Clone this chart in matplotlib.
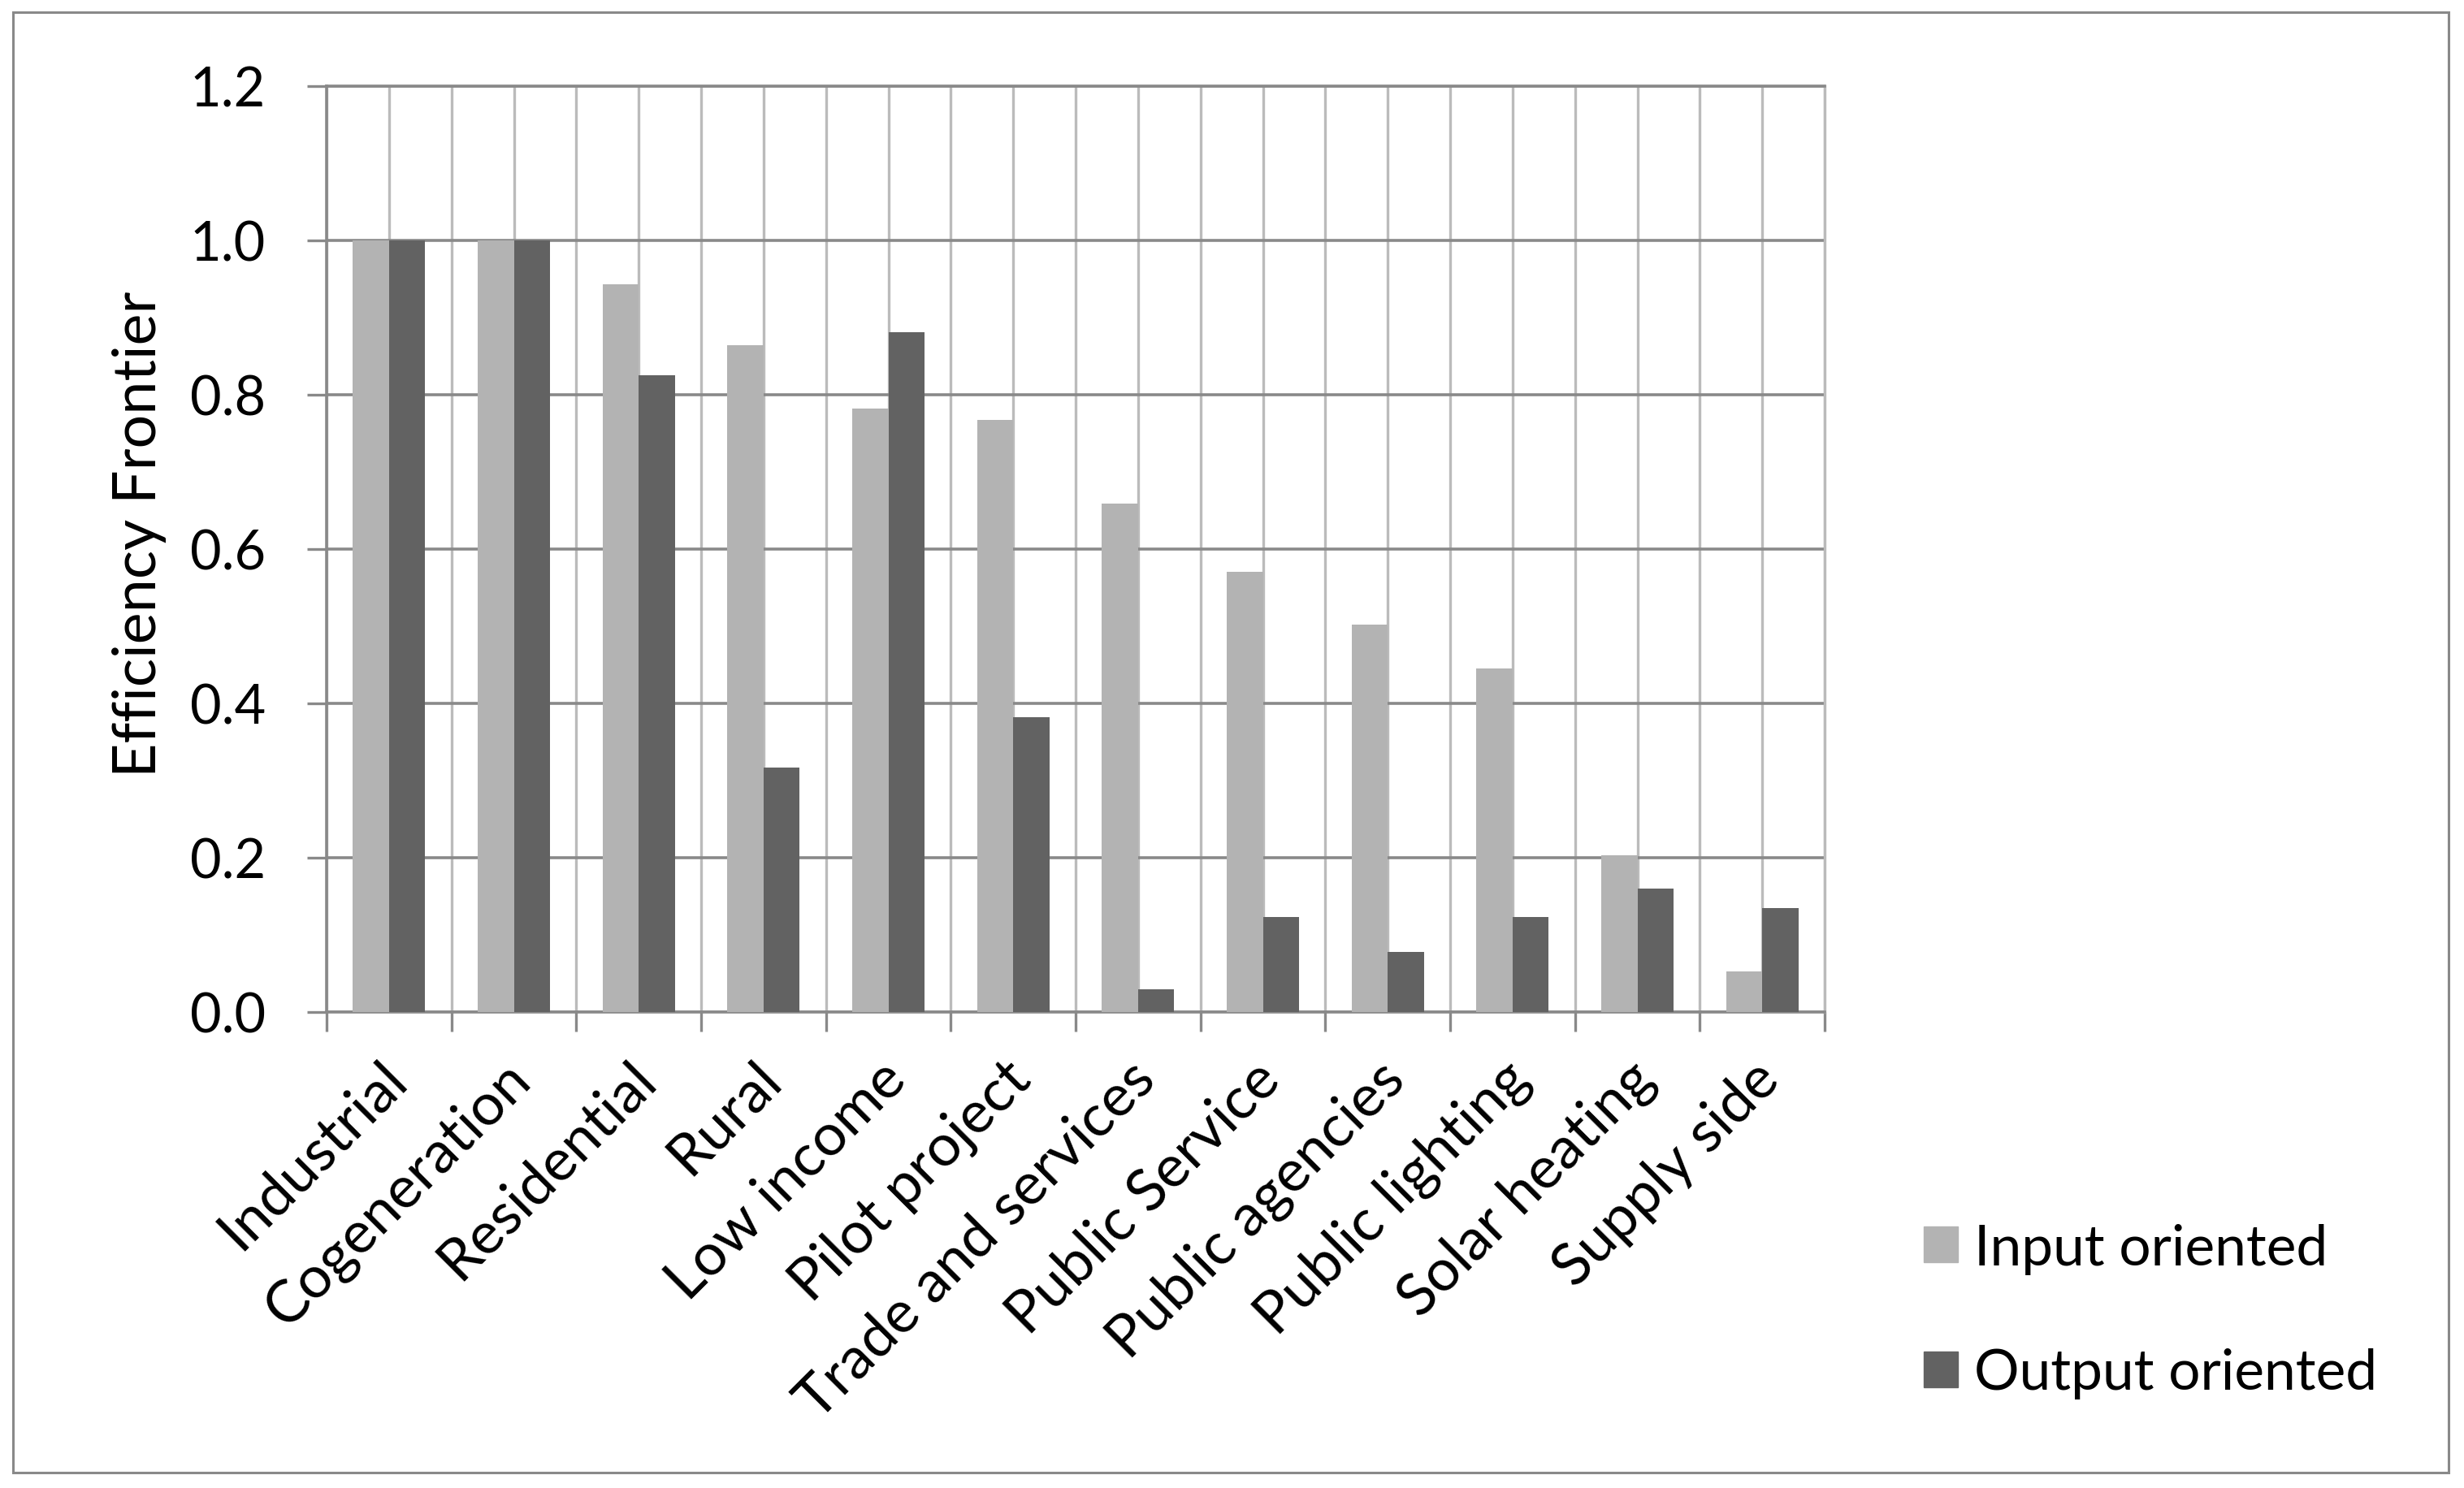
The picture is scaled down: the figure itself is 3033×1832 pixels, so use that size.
import matplotlib
matplotlib.use("Agg")
import matplotlib.pyplot as plt
import matplotlib.transforms as mtransforms
from matplotlib.patches import Rectangle, Patch
import numpy as np

plt.rcParams["font.family"] = ["Lato", "DejaVu Sans"]

categories = ["Industrial", "Cogeneration", "Residential", "Rural", "Low income",
              "Pilot project", "Trade and services", "Public Service", "Public agencies",
              "Public lighting", "Solar heating", "Supply side"]
input_oriented = [1.0, 1.0, 0.943, 0.864, 0.782, 0.767, 0.659, 0.571, 0.502, 0.445, 0.203, 0.053]
output_oriented = [1.0, 1.0, 0.825, 0.317, 0.881, 0.382, 0.030, 0.123, 0.078, 0.123, 0.160, 0.135]
series_names = ["Input oriented", "Output oriented"]

LIGHT = "#b3b3b3"
DARK = "#626262"
HGRID = "#898989"
VGRID = "#bbbbbb"
FS = 48

W, H = 3033, 1833
fig = plt.figure(figsize=(W / 100, H / 100), dpi=100)
ax = fig.add_axes([402 / W, 1 - 1247 / H, (2246 - 402) / W, (1247 - 107) / H])

n = len(categories)
centers = np.arange(n) + 0.5
bw = 0.29
ax.bar(centers - bw / 2, input_oriented, bw, color=LIGHT, zorder=3)
ax.bar(centers + bw / 2, output_oriented, bw, color=DARK, zorder=3)

ax.set_xlim(0, n)
ax.set_ylim(0, 1.2)
ax.set_yticks(np.arange(0, 1.21, 0.2))
ax.set_yticklabels([f"{v:.1f}" for v in np.arange(0, 1.21, 0.2)], fontsize=FS)

# category boundaries get tick marks, centres carry the labels
ax.set_xticks(np.arange(n + 1), minor=True)
ax.set_xticks(centers)
ax.set_xticklabels([])
ax.tick_params(axis="x", which="major", length=0)
ax.tick_params(axis="x", which="minor", length=17, width=2.4, color=HGRID, direction="out")
ax.tick_params(axis="y", length=17, width=2.4, color=HGRID, pad=37)

ax.set_axisbelow(True)
ax.grid(axis="x", which="both", color=VGRID, lw=2.4)
ax.grid(axis="y", color=HGRID, lw=2.6)

for s in ["left", "bottom", "top"]:
    ax.spines[s].set_color(HGRID)
    ax.spines[s].set_linewidth(2.6)
ax.spines["right"].set_color(VGRID)
ax.spines["right"].set_linewidth(2.4)

# rotated category labels, end of text at the category centre
off = mtransforms.offset_copy(ax.get_xaxis_transform(), fig=fig, x=-13, y=-48, units="dots")
for c, lab in zip(centers, categories):
    ax.text(c, 0, lab, transform=off, rotation=45, rotation_mode="anchor",
            ha="right", va="top", fontsize=52)

fig.text(172 / W, 1 - 658 / H, "Efficiency Frontier", rotation=90, ha="center",
         va="center", fontsize=53)

handles = [Patch(color=LIGHT), Patch(color=DARK)]
fig.legend(handles, series_names, loc="center left", bbox_to_anchor=(2368 / W, 1 - 1615 / H),
           frameon=False, fontsize=50, handlelength=0.6, handleheight=0.6,
           handletextpad=0.3, labelspacing=1.3, borderpad=0, borderaxespad=0)

fig.patches.append(Rectangle((16 / W, 1 - 1814 / H), 2998 / W, 1798 / H, transform=fig.transFigure,
                             fill=False, edgecolor=HGRID, lw=2.2))

fig.savefig("out.png", dpi=100)
